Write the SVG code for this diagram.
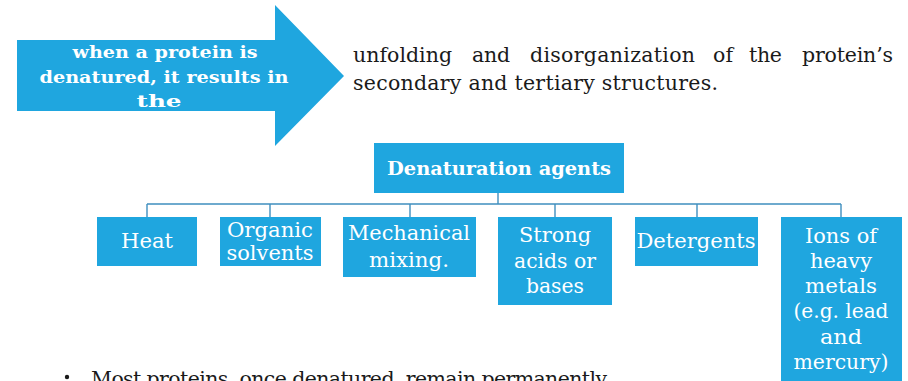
<svg xmlns="http://www.w3.org/2000/svg" width="908" height="381" viewBox="0 0 908 381">
<style>
.box{fill:#1fa6df}
.wt{fill:#ffffff;font-family:"DejaVu Serif","Liberation Serif",serif;font-size:20px;text-anchor:middle}
.wb{fill:#ffffff;font-family:"DejaVu Serif","Liberation Serif",serif;font-weight:bold;text-anchor:middle}
.bt{fill:#1a1a1a;font-family:"DejaVu Serif","Liberation Serif",serif;font-size:20.5px}
.conn{fill:none;stroke:#3f8fbf;stroke-width:1.4}
</style>
<rect width="908" height="381" fill="#ffffff"/>
<g id="arrow">
<polygon class="box" points="17,40 275,40 275,5 344,76 275,146 275,111 17,111"/>
<text class="wb" font-size="16" x="165" y="58" textLength="185" lengthAdjust="spacingAndGlyphs">when a protein is</text>
<text class="wb" font-size="16" x="164" y="83" textLength="249" lengthAdjust="spacingAndGlyphs">denatured, it results in</text>
<text class="wb" font-size="16" x="159" y="107" textLength="45" lengthAdjust="spacingAndGlyphs">the</text>
</g>
<g id="result-text">
<text class="bt" y="62"><tspan x="353" textLength="99">unfolding</tspan><tspan x="472" textLength="38">and</tspan><tspan x="530" textLength="165">disorganization</tspan><tspan x="713" textLength="20">of</tspan><tspan x="749" textLength="33">the</tspan><tspan x="802" textLength="91">protein’s</tspan></text>
<text class="bt" x="353" y="90" textLength="365" lengthAdjust="spacing">secondary and tertiary structures.</text>
</g>
<g id="connectors">
<path class="conn" d="M498,193 V204 M147,204 H841 M147,204 V217 M270,204 V217 M410,204 V217 M555,204 V217 M697,204 V217 M841,204 V217"/>
</g>
<g id="root">
<rect class="box" x="374" y="143" width="250" height="50"/>
<text class="wb" font-size="19" x="499" y="175" textLength="224" lengthAdjust="spacingAndGlyphs">Denaturation agents</text>
</g>
<g id="heat">
<rect class="box" x="97" y="217" width="100" height="49"/>
<text class="wt" x="147" y="248" textLength="52" lengthAdjust="spacingAndGlyphs">Heat</text>
</g>
<g id="organic">
<rect class="box" x="220" y="217" width="101" height="49"/>
<text class="wt" x="270" y="237" textLength="86" lengthAdjust="spacingAndGlyphs">Organic</text>
<text class="wt" x="270" y="260" textLength="87" lengthAdjust="spacingAndGlyphs">solvents</text>
</g>
<g id="mechanical">
<rect class="box" x="343" y="217" width="133" height="60"/>
<text class="wt" x="409" y="240" textLength="122" lengthAdjust="spacingAndGlyphs">Mechanical</text>
<text class="wt" x="409" y="267" textLength="80" lengthAdjust="spacingAndGlyphs">mixing.</text>
</g>
<g id="strong">
<rect class="box" x="498" y="217" width="114" height="88"/>
<text class="wt" x="555" y="242" textLength="72" lengthAdjust="spacingAndGlyphs">Strong</text>
<text class="wt" x="555" y="268" textLength="82" lengthAdjust="spacingAndGlyphs">acids or</text>
<text class="wt" x="555" y="293" textLength="58" lengthAdjust="spacingAndGlyphs">bases</text>
</g>
<g id="detergents">
<rect class="box" x="635" y="217" width="123" height="49"/>
<text class="wt" x="696" y="248" textLength="119" lengthAdjust="spacingAndGlyphs">Detergents</text>
</g>
<g id="ions">
<rect class="box" x="781" y="217" width="121" height="170"/>
<text class="wt" x="841" y="243" textLength="72" lengthAdjust="spacingAndGlyphs">Ions of</text>
<text class="wt" x="841" y="268" textLength="62" lengthAdjust="spacingAndGlyphs">heavy</text>
<text class="wt" x="841" y="293" textLength="72" lengthAdjust="spacingAndGlyphs">metals</text>
<text class="wt" x="841" y="318" textLength="95" lengthAdjust="spacingAndGlyphs">(e.g. lead</text>
<text class="wt" x="841" y="344" textLength="42" lengthAdjust="spacingAndGlyphs">and</text>
<text class="wt" x="841" y="369" textLength="95" lengthAdjust="spacingAndGlyphs">mercury)</text>
</g>
<g id="bullet">
<circle cx="67" cy="377" r="2.2" fill="#1a1a1a"/>
<text class="bt" x="91" y="386" textLength="516" lengthAdjust="spacing">Most proteins, once denatured, remain permanently</text>
</g>
</svg>
